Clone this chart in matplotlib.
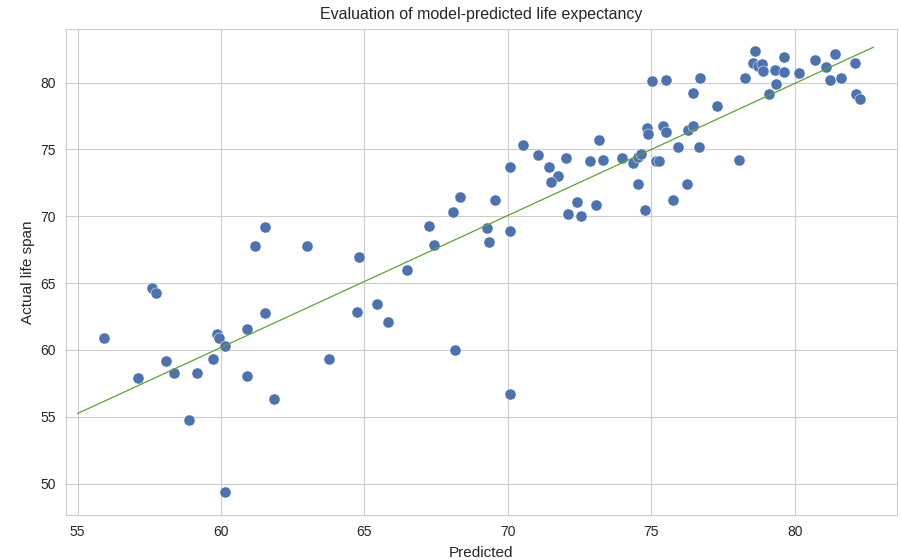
import numpy as np
import matplotlib
matplotlib.use('Agg')
import matplotlib.pyplot as plt
import seaborn as sns

# Predicted vs actual life expectancy
predicted = [55.92, 57.58, 57.75, 57.11, 58.07, 58.37, 58.88, 59.15, 59.72, 59.87,
             59.94, 60.14, 60.91, 60.91, 61.53, 61.84, 60.15, 61.18, 61.54, 63.0,
             64.81, 64.76, 65.44, 65.84, 63.77, 66.47, 67.26, 67.41, 68.09, 68.34,
             68.16, 70.06, 69.28, 69.34, 69.54, 70.06, 70.06, 70.54, 71.05, 71.42,
             71.74, 71.51, 72.04, 72.09, 72.40, 72.56, 72.86, 73.07, 73.19, 73.33,
             73.97, 74.37, 74.55, 74.63, 74.55, 74.79, 74.84, 74.90, 75.16, 75.28,
             75.40, 75.51, 75.01, 75.51, 75.77, 76.26, 75.94, 76.29, 76.47, 76.66,
             76.44, 76.71, 77.28, 78.06, 78.28, 78.63, 78.56, 78.73, 78.85, 78.91,
             79.10, 79.36, 79.32, 79.63, 79.62, 80.15, 80.71, 81.08, 81.39, 81.23,
             81.60, 82.11, 82.13, 82.28]
actual = [60.87, 64.66, 64.28, 57.87, 59.18, 58.28, 54.73, 58.28, 59.31, 61.22,
          60.87, 60.30, 61.54, 58.06, 62.76, 56.32, 49.40, 67.76, 69.21, 67.76,
          66.97, 62.84, 63.41, 62.07, 59.31, 66.00, 69.31, 67.89, 70.33, 71.45,
          60.00, 56.72, 69.13, 68.06, 71.22, 73.66, 68.88, 75.35, 74.55, 73.66,
          72.99, 72.54, 74.33, 70.20, 71.10, 70.00, 74.13, 70.87, 75.67, 74.23,
          74.33, 73.98, 74.40, 74.68, 72.44, 70.45, 76.57, 76.15, 74.13, 74.13,
          76.79, 76.27, 80.13, 80.20, 71.19, 72.44, 75.22, 76.47, 76.79, 75.22,
          79.25, 80.35, 78.24, 74.23, 80.35, 82.37, 81.45, 81.25, 81.37, 80.90,
          79.13, 79.90, 80.95, 80.78, 81.92, 80.70, 81.69, 81.15, 82.14, 80.20,
          80.35, 81.49, 79.16, 78.78]

# fitted line end points
line_x = [55.0, 82.75]
line_y = [55.25, 82.65]

sns.set_style('whitegrid')
plt.rcParams['font.family'] = ['Liberation Sans', 'DejaVu Sans']

fig = plt.figure(figsize=(9.01, 5.6), dpi=100)
ax = fig.add_axes([0.073, 0.0804, 0.9226, 0.8676])

ax.scatter(predicted, actual, s=64, color='#4c72b0', edgecolors='white', linewidths=0.35, zorder=3)
ax.plot(line_x, line_y, color='#5ca52e', linewidth=0.9, zorder=4)

ax.set_xlim(54.59, 83.57)
ax.set_ylim(47.66, 84.0)
ax.set_xticks([55, 60, 65, 70, 75, 80])
ax.set_yticks([50, 55, 60, 65, 70, 75, 80])
ax.tick_params(labelsize=10, colors='0.15')

ax.set_title('Evaluation of model-predicted life expectancy', fontsize=11.5, color='0.15', pad=7)
ax.set_xlabel('Predicted', fontsize=11, color='0.15', labelpad=5)
ax.set_ylabel('Actual life span', fontsize=11, color='0.15')

fig.savefig('out.png', dpi=100)
